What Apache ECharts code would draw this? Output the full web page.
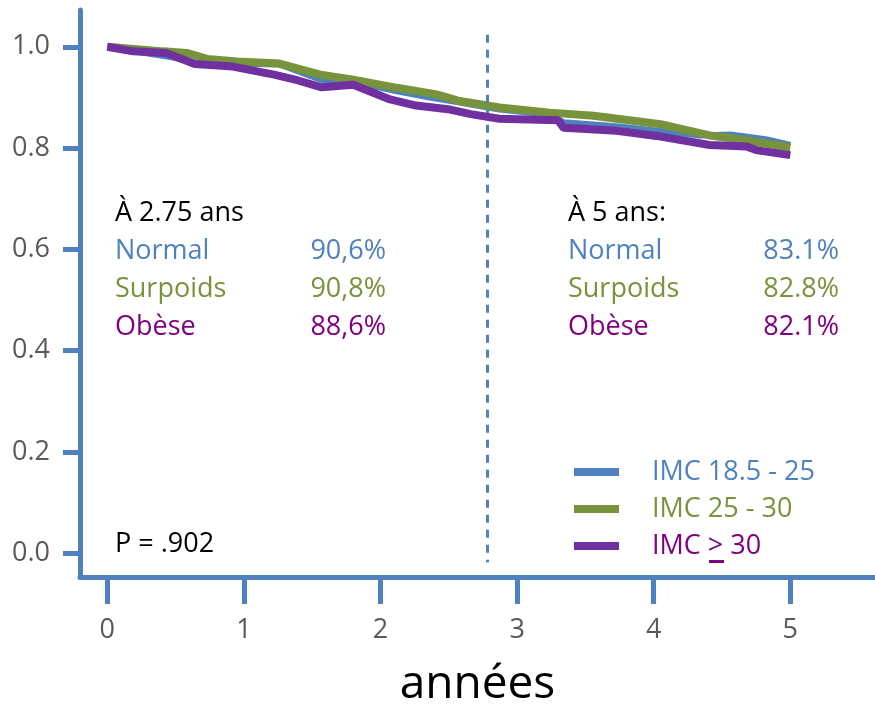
<!DOCTYPE html>
<html>
<head>
<meta charset="utf-8">
<script src="https://cdn.jsdelivr.net/npm/echarts@6/dist/echarts.min.js"></script>
<style>
  html, body { margin: 0; padding: 0; background: #ffffff; }
  #chart { width: 875px; height: 713px; }
</style>
</head>
<body>
<div id="chart"></div>
<script>
var chart = echarts.init(document.getElementById('chart'));

// survie par groupe d'IMC : [années, proportion]
var normalData = [
  [0, 1.0], [0.31, 0.986], [0.46, 0.980], [0.64, 0.968], [0.95, 0.967], [1.26, 0.965],
  [1.56, 0.935], [1.80, 0.931], [2.12, 0.912], [2.36, 0.900], [2.58, 0.890], [2.87, 0.876],
  [3.24, 0.866], [3.34, 0.851], [3.73, 0.843], [4.34, 0.825], [4.56, 0.827], [4.70, 0.822],
  [4.83, 0.817], [5.0, 0.806]
];
var surpoidsData = [
  [0, 1.0], [0.41, 0.991], [0.58, 0.988], [0.73, 0.976], [0.95, 0.971], [1.26, 0.967],
  [1.56, 0.945], [1.80, 0.935], [2.12, 0.919], [2.41, 0.906], [2.58, 0.893], [2.87, 0.880],
  [3.24, 0.870], [3.56, 0.864], [4.05, 0.847], [4.41, 0.825], [4.61, 0.818], [5.0, 0.801]
];
var obeseData = [
  [0, 1.0], [0.19, 0.991], [0.43, 0.988], [0.64, 0.966], [0.92, 0.961], [1.22, 0.945],
  [1.39, 0.934], [1.57, 0.920], [1.80, 0.925], [2.07, 0.896], [2.26, 0.884], [2.51, 0.876],
  [2.66, 0.867], [2.87, 0.858], [3.30, 0.855], [3.34, 0.840], [3.73, 0.834], [4.02, 0.824],
  [4.41, 0.806], [4.68, 0.803], [4.75, 0.796], [5.0, 0.786]
];

var seriesNames = ['IMC 18.5 - 25', 'IMC 25 - 30', 'IMC > 30'];
var xTicks = [0, 1, 2, 3, 4, 5];
var yTicks = [0, 0.2, 0.4, 0.6, 0.8, 1.0];
var cutYear = 2.78;

var groupNames = ['Normal', 'Surpoids', 'Obèse'];
var at275 = ['90,6%', '90,8%', '88,6%'];
var at5 = ['83.1%', '82.8%', '82.1%'];
var title275 = 'À 2.75 ans';
var title5 = 'À 5 ans:';
var pText = 'P = .902';

var lineColors = ['#4F81BD', '#77933C', '#7030A0'];
var textColors = ['#4F81BD', '#77933C', '#800080'];
var axisBlue = '#4F81BD';
var font = '"Open Sans", "Noto Sans", sans-serif';

// textes d'annotation
var graphics = [];
function addText(txt, x, y, color, align) {
  graphics.push({
    type: 'text', x: x, y: y, silent: true,
    style: {
      text: txt, fill: color, fontSize: 27, fontFamily: font,
      textAlign: align || 'left', textVerticalAlign: 'middle'
    }
  });
}
var rowsY = [251, 289, 327];
addText(title275, 115, 213, '#000000');
addText(title5, 568, 213, '#000000');
for (var i = 0; i < groupNames.length; i++) {
  addText(groupNames[i], 115, rowsY[i], textColors[i]);
  addText(at275[i], 386, rowsY[i], textColors[i], 'right');
  addText(groupNames[i], 568, rowsY[i], textColors[i]);
  addText(at5[i], 839, rowsY[i], textColors[i], 'right');
}
addText(pText, 115, 544, '#000000');
// soulignement du ">" (pour >=)
graphics.push({
  type: 'rect', silent: true,
  shape: { x: 709, y: 560, width: 15, height: 3 },
  style: { fill: '#800080' }
});

var series = [normalData, surpoidsData, obeseData].map(function (d, i) {
  return {
    name: seriesNames[i],
    type: 'line',
    data: d,
    showSymbol: false,
    symbol: 'none',
    itemStyle: { color: lineColors[i] },
    lineStyle: { color: lineColors[i], width: i === 0 ? 6 : 8, cap: 'butt' },
    z: 3 + i
  };
});
series[0].markLine = {
  silent: true,
  symbol: ['none', 'none'],
  label: { show: false },
  lineStyle: { type: [8, 7], width: 3, color: axisBlue },
  data: [[{ coord: [cutYear, 1.024] }, { coord: [cutYear, -0.018] }]]
};

var option = {
  animation: false,
  textStyle: { fontFamily: font },
  grid: { left: 80, right: 0, top: 10, bottom: 133, containLabel: false },
  legend: {
    orient: 'vertical',
    left: 569,
    top: 452,
    icon: 'rect',
    itemWidth: 45,
    itemHeight: 8,
    itemGap: 7,
    selectedMode: false,
    textStyle: { fontSize: 27, lineHeight: 30, padding: [0, 0, 0, 28] },
    data: seriesNames.map(function (n, i) {
      return { name: n, textStyle: { color: textColors[i] } };
    })
  },
  xAxis: {
    type: 'value',
    min: -0.2,
    max: 5.62,
    name: 'années',
    nameLocation: 'middle',
    nameGap: 85,
    nameTextStyle: { fontSize: 46, color: '#000000' },
    splitLine: { show: false },
    axisLine: { onZero: false, lineStyle: { color: axisBlue, width: 5 } },
    axisTick: { length: 27, customValues: xTicks, lineStyle: { color: axisBlue, width: 5 } },
    axisLabel: { customValues: xTicks, margin: 40, fontSize: 27, color: '#595959' }
  },
  yAxis: {
    type: 'value',
    min: -0.0472,
    max: 1.0727,
    splitLine: { show: false },
    axisLine: { show: true, onZero: false, lineStyle: { color: axisBlue, width: 5 } },
    axisTick: { show: true, length: 17, customValues: yTicks, lineStyle: { color: axisBlue, width: 5 } },
    axisLabel: {
      customValues: yTicks, margin: 30, fontSize: 27, color: '#595959',
      formatter: function (v) { return v.toFixed(1); }
    }
  },
  graphic: graphics,
  series: series
};
chart.setOption(option);
</script>
</body>
</html>
